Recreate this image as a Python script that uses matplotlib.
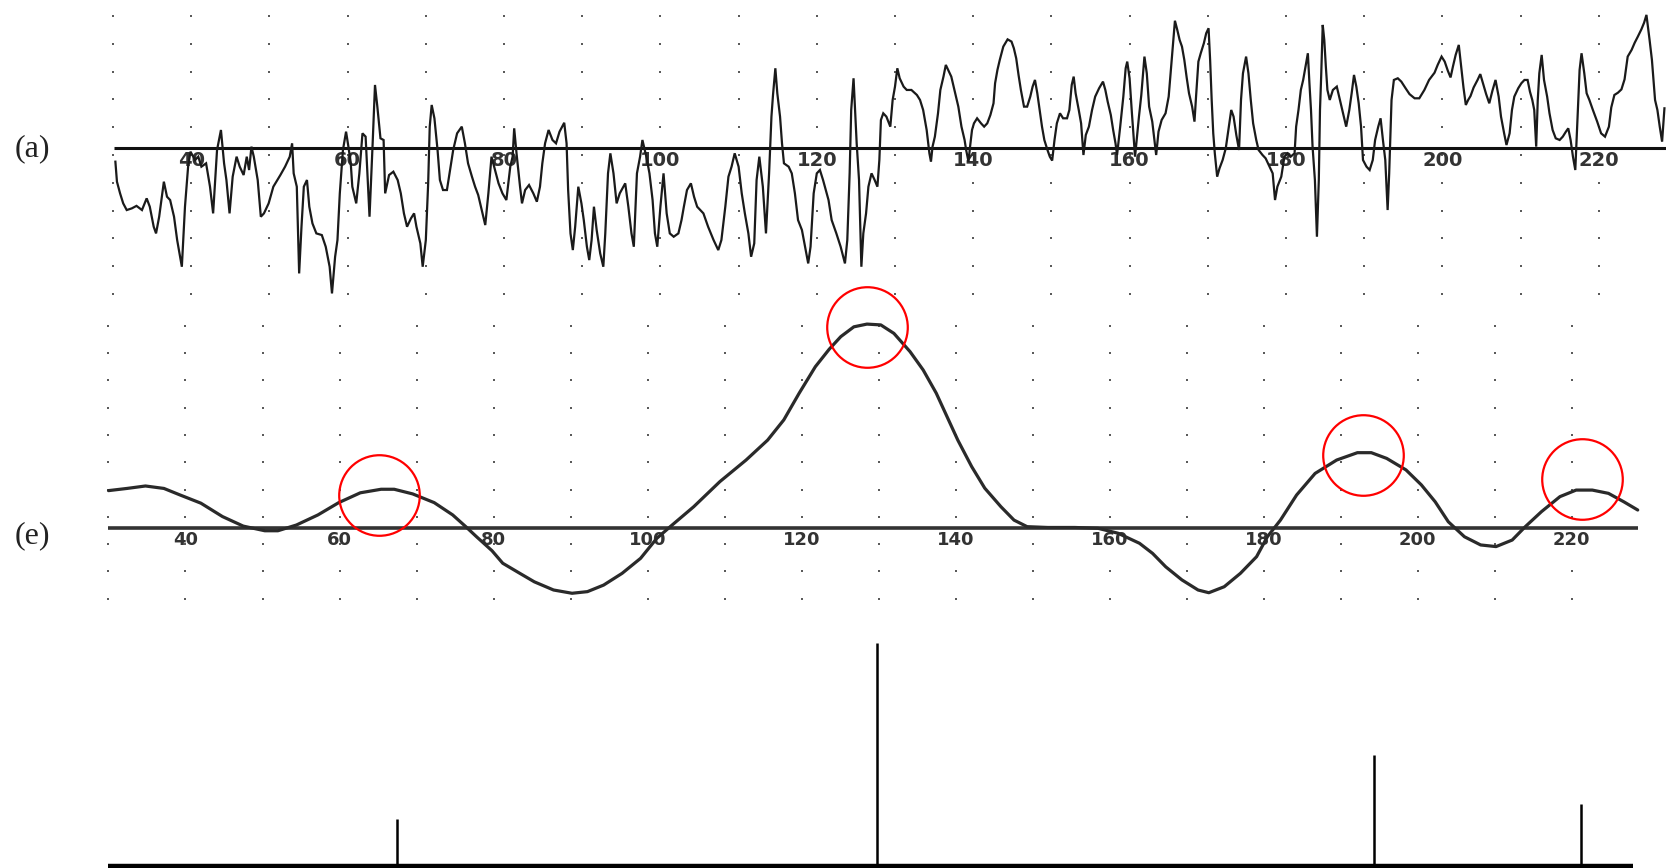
import matplotlib
matplotlib.use("Agg")
import matplotlib.pyplot as plt
import numpy as np

# ---------------- data ----------------
# (a) raw signal: x position, amplitude (grid-row units)
sig_x = [30.3, 30.5, 30.9, 31.3, 31.75, 32.4, 33.0, 33.7, 34.3, 34.7, 35.2, 35.5, 35.9, 36.5, 36.9, 37.3, 37.8, 38.2, 38.8, 39.2,
         39.6, 39.9, 40.5, 40.9, 41.3, 41.9, 42.4, 42.8, 43.3, 43.8, 44.2, 44.5, 44.9, 45.3, 45.8, 46.2, 46.7, 47.1, 47.4, 47.7,
         48.0, 48.5, 48.9, 49.3, 49.9, 50.5, 51.4, 52.0, 52.6, 52.9, 53.1, 53.5, 53.8, 54.1, 54.4, 54.8, 55.1, 55.5, 56.0, 56.7,
         57.2, 57.7, 58.0, 58.4, 58.7, 59.0, 59.4, 59.8, 60.1, 60.4, 60.6, 61.1, 61.5, 61.9, 62.3, 62.8, 63.2, 63.5, 63.8, 64.2,
         64.6, 64.8, 65.3, 65.85, 66.4, 66.8, 67.2, 67.6, 68.1, 68.5, 68.8, 69.3, 69.6, 70.0, 70.3, 70.5, 70.75, 71.1, 71.5, 71.8,
         72.2, 72.7, 73.1, 73.5, 74.0, 74.6, 75.0, 75.4, 75.9, 76.3, 76.7, 77.1, 77.6, 78.0,
         78.4, 78.85, 79.3, 79.8, 80.3, 80.8, 81.1, 81.3, 81.6, 82.05, 82.3, 82.7, 83.2, 83.75, 84.2, 84.6, 84.9, 85.25, 85.7, 86.2,
         86.65, 87.1, 87.7, 88.0, 88.2, 88.5, 88.8, 89.1, 89.5, 89.9, 90.2, 90.6, 90.9, 91.2, 91.5, 91.85, 92.3, 92.7, 92.95, 93.3,
         93.6, 94.0, 94.4, 94.8, 95.5, 95.9, 96.3, 96.6, 97.0, 97.4, 97.7, 98.2, 98.6, 99.0, 99.3, 99.6, 100.0, 100.4, 100.8, 101.2,
         101.7, 102.3, 102.7, 103.0, 103.4, 103.9, 104.3, 104.7, 105.5, 106.1, 106.8, 107.4, 107.8, 108.3, 108.7, 109.1, 109.5, 110.0, 110.4, 110.8,
         111.25, 111.6, 112.0, 112.3, 112.65, 113.1, 113.5, 113.9, 114.2, 114.4, 114.7, 114.95, 115.3, 115.55, 115.8, 116.4, 116.8, 117.2, 117.6, 118.1,
         118.5, 118.9, 119.2, 119.6, 120.0, 120.4, 120.8, 121.5, 121.9, 122.5, 123.05, 123.6, 123.9, 124.2, 124.4, 124.7, 124.9, 125.1, 125.4, 125.7,
         125.95, 126.3, 126.6, 127.0, 127.4, 127.75, 128.0, 128.2, 128.5,
         128.9, 129.4, 129.7, 130.0, 130.3, 130.6, 131.1, 131.5, 132.1, 132.8, 133.2, 133.6, 134.05, 134.4, 134.6, 134.8, 135.1, 135.5, 135.8, 136.2,
         136.5, 136.8, 137.2, 137.7, 138.1, 138.5, 138.9, 139.1, 139.4, 139.6, 139.85, 140.1, 140.5, 141.0, 141.4, 141.8, 142.2, 142.6, 142.8, 143.1,
         143.4, 143.85, 144.4, 144.9, 145.2, 145.5, 145.8, 146.1, 146.5, 146.9, 147.3, 147.6, 147.9, 148.2, 148.5, 148.8, 149.1, 149.5, 149.8, 150.1,
         150.4, 150.7, 151.1, 151.5, 152.0, 152.3, 152.6, 152.85, 153.1, 153.5, 153.8, 154.1, 154.4, 154.8, 155.2, 155.6, 156.1, 156.6, 156.9, 157.2,
         157.6, 157.9, 158.2, 158.4, 158.8, 159.2, 159.5, 159.7, 160.0, 160.3, 160.7, 161.2, 161.5, 161.9, 162.2, 162.5, 162.9, 163.2, 163.4, 163.7,
         164.1, 164.6, 165.0, 165.25, 165.5, 165.8, 166.1, 166.4, 166.7, 167.0, 167.3, 167.6, 168.0, 168.3, 168.5, 168.8, 169.1, 169.5, 169.8, 170.1,
         170.3, 170.5, 170.7, 170.9, 171.2, 171.5, 171.9, 172.3, 172.7, 173.0, 173.3, 173.65, 174.0, 174.25, 174.5, 174.9, 175.2, 175.5, 175.8, 176.2,
         176.5, 177.0, 177.4,
         178.3, 178.6, 178.9, 179.4, 179.8, 180.2, 180.6, 181.1, 181.3, 181.6, 181.9, 182.2, 182.5, 182.8, 183.0, 183.2, 183.4, 183.7, 183.96, 184.2,
         184.35, 184.5, 184.7, 184.9, 185.1, 185.3, 185.6, 186.0, 186.5, 186.9, 187.3, 187.7, 188.1, 188.4, 188.7, 189.0, 189.3, 189.6, 189.85, 190.3,
         190.7, 191.1, 191.4, 191.8, 192.1, 192.4, 192.7, 193.0, 193.2, 193.5, 193.8, 194.3, 194.75, 195.3, 195.8, 196.45, 197.05, 197.7, 198.3, 199.0,
         199.4, 199.9, 200.3, 200.7, 201.05, 201.35, 201.7, 202.1, 202.4, 202.7, 203.0, 203.3, 203.6, 204.0, 204.5, 204.85, 205.2, 205.6, 206.0, 206.4,
         206.8, 207.2, 207.5, 207.9, 208.2, 208.6, 208.9, 209.2, 209.7, 210.1, 210.5, 210.9, 211.2, 211.5, 211.75, 212.0, 212.2, 212.4, 212.7, 213.0,
         213.4, 213.7, 214.1, 214.5, 215.0, 215.4, 215.8, 216.1, 216.4, 216.7, 217.0, 217.3, 217.55, 217.8, 218.15, 218.45, 218.8, 219.25, 219.8, 220.3,
         220.8, 221.3, 221.6, 222.0, 222.45, 222.9, 223.3, 223.7, 224.2, 224.6, 225.0, 225.45, 225.8, 226.1, 226.5, 226.8, 227.0, 227.2, 227.5, 227.8,
         228.1, 228.4]
sig_y = [-0.48, -1.20, -1.62, -1.98, -2.22, -2.16, -2.07, -2.22, -1.80, -2.10, -2.82, -3.06, -2.46, -1.20, -1.74, -1.86, -2.46, -3.30, -4.26, -2.10,
         -0.66, -0.12, -0.42, -0.30, -0.66, -0.54, -1.38, -2.34, -0.06, 0.66, -0.54, -1.14, -2.34, -1.02, -0.30, -0.66, -0.96, -0.30, -0.78, 0.06,
         -0.30, -1.14, -2.46, -2.34, -1.98, -1.38, -0.96, -0.66, -0.30, 0.18, -0.90, -1.38, -4.50, -2.82, -1.38, -1.14, -2.10, -2.70, -3.06, -3.12,
         -3.54, -4.26, -5.22, -3.90, -3.30, -1.62, -0.06, 0.60, 0.06, -0.54, -1.38, -1.98, -0.90, 0.54, 0.42, -2.46, 0.18, 2.28, 1.50, 0.36,
         0.30, -1.62, -0.96, -0.84, -1.14, -1.62, -2.34, -2.82, -2.52, -2.34, -2.82, -3.42, -4.26, -3.30, -1.26, 0.78, 1.56, 1.08, -0.06, -1.14,
         -1.50, -1.50, -0.78, -0.06, 0.54, 0.78, 0.18, -0.54, -1.02, -1.38, -1.68, -2.16, -2.76, -1.62,
         -0.30, -0.78, -1.26, -1.62, -1.86, -0.66, -0.30, 0.72, -0.18, -1.38, -1.98, -1.50, -1.32, -1.62, -1.92, -1.38, -0.54, 0.18, 0.66, 0.30,
         0.18, 0.60, 0.92, 0.18, -1.50, -3.06, -3.66, -2.82, -1.38, -1.98, -2.58, -3.54, -4.02, -3.30, -2.10, -2.94, -3.78, -4.26, -3.06, -0.90,
         -0.18, -0.90, -1.98, -1.62, -1.26, -2.10, -3.06, -3.54, -0.90, -0.30, 0.30, -0.30, -0.90, -1.86, -3.06, -3.54, -2.10, -0.90, -2.34, -3.06,
         -3.18, -3.06, -2.58, -2.10, -1.50, -1.26, -1.74, -2.10, -2.34, -2.82, -3.30, -3.66, -3.30, -2.10, -1.02, -0.66, -0.18, -0.66, -1.62, -2.34,
         -3.06, -3.90, -3.42, -1.14, -0.30, -1.38, -3.06, -0.90, 1.14, 1.92, 2.88, 1.98, 1.14, 0.18, -0.54, -0.66, -0.90, -1.62, -2.58, -2.94,
         -3.54, -4.14, -3.54, -1.62, -0.90, -0.78, -1.14, -1.86, -2.58, -3.06, -3.54, -4.14, -3.30, -0.90, 1.38, 2.52, 1.38, 0.18, -1.14, -4.26,
         -3.06, -2.34, -1.38, -0.90, -1.14, -1.38, -0.42, 1.02, 1.26,
         1.14, 0.78, 1.74, 2.22, 2.88, 2.52, 2.22, 2.10, 2.10, 1.92, 1.74, 1.38, 0.66, -0.18, -0.48, 0.06, 0.42, 1.26, 2.10, 2.58,
         3.00, 2.82, 2.58, 1.98, 1.50, 0.78, 0.30, -0.06, -0.48, 0.06, 0.66, 0.90, 1.08, 0.90, 0.78, 0.90, 1.20, 1.62, 2.34, 2.82,
         3.18, 3.66, 3.92, 3.84, 3.60, 3.24, 2.64, 2.10, 1.50, 1.50, 1.86, 2.22, 2.46, 1.98, 1.38, 0.78, 0.30, -0.06, -0.30, -0.44,
         0.30, 0.90, 1.26, 1.08, 1.08, 1.38, 2.28, 2.58, 1.98, 1.38, 0.90, -0.24, 0.48, 0.78, 1.38, 1.86, 2.16, 2.40, 2.10, 1.68,
         1.20, 0.66, 0.18, -0.24, 0.78, 1.86, 2.88, 3.12, 2.52, 1.26, -0.30, 1.14, 1.92, 3.30, 2.70, 1.50, 0.96, 0.24, -0.24, 0.60,
         1.02, 1.26, 1.86, 2.70, 3.54, 4.59, 4.26, 3.90, 3.66, 3.18, 2.55, 1.98, 1.50, 0.96, 1.86, 3.12, 3.42, 3.78, 4.14, 4.32,
         3.18, 1.74, 0.54, -0.18, -1.02, -0.72, -0.42, 0.00, 0.78, 1.38, 1.14, 0.48, -0.06, 1.74, 2.70, 3.30, 2.70, 1.74, 0.90, 0.30,
         -0.06, -0.24, -0.36,
         -0.90, -1.86, -1.38, -1.02, -0.30, -0.18, -0.30, -0.18, 0.78, 1.38, 2.10, 2.46, 2.94, 3.42, 2.34, 1.38, 0.06, -1.14, -3.18, -1.14,
         1.38, 2.58, 4.44, 3.90, 2.94, 2.10, 1.74, 2.10, 2.22, 1.74, 1.26, 0.78, 1.38, 1.98, 2.64, 2.22, 1.62, 0.78, -0.42, -0.66,
         -0.78, -0.42, 0.30, 0.78, 1.08, 0.30, -0.42, -2.22, -0.90, 1.74, 2.46, 2.52, 2.40, 2.16, 1.95, 1.80, 1.80, 2.10, 2.46, 2.72,
         3.00, 3.30, 3.12, 2.79, 2.55, 2.94, 3.36, 3.72, 2.94, 2.19, 1.56, 1.74, 1.88, 2.19, 2.46, 2.67, 2.34, 1.95, 1.62, 2.07,
         2.46, 1.86, 1.14, 0.54, 0.12, 0.54, 1.38, 1.86, 2.16, 2.34, 2.46, 2.46, 2.04, 1.74, 1.38, 0.06, 1.74, 2.70, 3.36, 2.46,
         1.86, 1.26, 0.66, 0.36, 0.30, 0.42, 0.60, 0.72, 0.30, -0.30, -0.78, 1.14, 2.82, 3.42, 2.70, 1.98, 1.74, 1.38, 0.96, 0.54,
         0.42, 0.78, 1.47, 1.92, 2.00, 2.12, 2.48, 3.30, 3.54, 3.80, 4.02, 4.28, 4.52, 4.80, 3.90, 3.18, 2.46, 1.74, 1.38, 0.78,
         0.24, 1.44]

# (e) smoothed curve
cur_x = [30.0, 32.4, 34.8, 37.2, 39.3, 42.0, 44.8, 47.5, 50.3, 52.0, 54.4, 57.2, 59.9, 62.7, 65.4, 67.1, 69.5, 72.3, 74.7, 76.4,
         77.8, 79.8, 81.2, 83.3, 85.3, 87.8, 90.2, 92.2, 94.3, 96.7, 99.1, 101.2, 103.2, 106.0, 109.4, 112.8, 115.6, 117.7, 119.7, 121.8,
         123.6, 125.1, 126.8, 128.5, 130.3, 132.0, 134.1, 135.8, 137.5, 138.9, 140.3, 142.1, 143.8, 145.9, 147.6, 149.3, 152.0, 155.5, 158.5, 161.1,
         163.9, 165.6, 167.3, 169.4, 171.5, 172.9, 174.9, 177.0, 179.1, 180.5, 182.2, 184.3, 186.7, 189.5, 192.2, 194.0, 196.0, 198.5, 200.5, 202.3,
         204.0, 206.1, 208.2, 210.2, 212.3, 214.0, 216.1, 218.5, 220.6, 222.7, 224.8, 226.8, 228.6]
cur_y = [1.38, 1.46, 1.55, 1.46, 1.22, 0.92, 0.43, 0.08, -0.09, -0.09, 0.12, 0.49, 0.94, 1.30, 1.43, 1.43, 1.26, 0.94, 0.49, 0.06,
         -0.31, -0.82, -1.28, -1.63, -1.96, -2.26, -2.38, -2.32, -2.08, -1.65, -1.10, -0.37, 0.12, 0.79, 1.71, 2.50, 3.23, 3.97, 4.95, 5.92,
         6.56, 7.02, 7.38, 7.48, 7.45, 7.14, 6.47, 5.80, 4.95, 4.09, 3.23, 2.26, 1.47, 0.79, 0.30, 0.06, 0.03, 0.03, 0.00, -0.18,
         -0.55, -0.92, -1.41, -1.89, -2.26, -2.36, -2.14, -1.65, -1.04, -0.31, 0.30, 1.22, 2.01, 2.50, 2.77, 2.77, 2.56, 2.14, 1.59, 0.97,
         0.24, -0.31, -0.61, -0.67, -0.43, 0.06, 0.61, 1.16, 1.40, 1.40, 1.28, 0.97, 0.67]

# circled peaks (centres of the red rings)
circ_x = [65.1, 128.5, 192.9, 221.4]
circ_y = [1.23, 7.37, 2.68, 1.81]

# bottom panel: detected peaks (relative height)
stem_x = [67.5, 129.8, 194.3, 221.2]
stem_h = [0.21, 1.00, 0.50, 0.28]

tick_vals = [40, 60, 80, 100, 120, 140, 160, 180, 200, 220]
grid_cols = list(range(30, 221, 10))
grid_rows_a = [4.76, 3.76, 2.76, 1.76, 0.76, -0.24, -1.24, -2.24, -3.24, -4.24, -5.24]
grid_rows_e = [7.42, 6.42, 5.42, 4.42, 3.42, 2.42, 1.42, 0.42, -0.58, -1.58, -2.58]

# ---------------- figure ----------------
W, H = 1666, 868
fig = plt.figure(figsize=(W / 100, H / 100), dpi=100)
fig.patch.set_facecolor("white")

def frac_box(left_px, top_px, right_px, bottom_px):
    return [left_px / W, 1 - bottom_px / H, (right_px - left_px) / W, (bottom_px - top_px) / H]

ax_a = fig.add_axes(frac_box(97.4, 1.0, 1666, 304))
ax_a.set_xlim(28, 228.6)
ax_a.set_ylim(-5.6, 5.3)

ax_e = fig.add_axes(frac_box(93.1, 309.9, 1648.5, 610.2))
ax_e.set_xlim(28, 230)
ax_e.set_ylim(-3.0, 8.0)

ax_s = fig.add_axes(frac_box(93.1, 620.7, 1648.5, 868))
ax_s.set_xlim(28, 230)
ax_s.set_ylim(-0.0076, 1.1)

for ax in (ax_a, ax_e, ax_s):
    ax.axis("off")

# dotted grids
gx, gy = np.meshgrid(grid_cols, grid_rows_a)
ax_a.plot(gx.ravel(), gy.ravel(), "s", ms=1.6, color="#5a5a5a", mew=0, zorder=1)
gx, gy = np.meshgrid(grid_cols, grid_rows_e)
ax_e.plot(gx.ravel(), gy.ravel(), "s", ms=1.6, color="#5a5a5a", mew=0, zorder=1)

# tick labels
for v in tick_vals:
    ax_a.text(v, -0.42, str(v), ha="center", va="center", fontsize=14,
              color="#333333", fontweight="bold", zorder=2)
    ax_e.text(v, -0.43, str(v), ha="center", va="center", fontsize=13,
              color="#333333", fontweight="bold", zorder=2)

# baselines
ax_a.hlines(0, 30.1, 228.6, color="#111111", lw=2.2, zorder=3)
ax_e.hlines(0, 30.0, 228.6, color="#333333", lw=2.6, zorder=3)
ax_s.hlines(0, 30.0, 228.0, color="#000000", lw=3.2, zorder=3, clip_on=False)

# series
ax_a.plot(sig_x, sig_y, color="#1a1a1a", lw=1.6, zorder=4, solid_joinstyle="miter")
ax_e.plot(cur_x, cur_y, color="#2a2a2a", lw=2.3, zorder=4,
          solid_joinstyle="round", solid_capstyle="round")
ax_e.plot(circ_x, circ_y, "o", ms=58, mfc="none", mec="#ff0000", mew=1.6,
          zorder=5, clip_on=False)
ax_s.vlines(stem_x, 0, stem_h, color="#000000", lw=1.8, zorder=4)

# panel labels
fig.text(32 / W, 1 - 148.5 / H, "(a)", ha="center", va="center",
         fontsize=23, family="Liberation Serif", color="#222222")
fig.text(32 / W, 1 - 535.8 / H, "(e)", ha="center", va="center",
         fontsize=23, family="Liberation Serif", color="#222222")

fig.savefig("out.png", dpi=100, facecolor="white")
